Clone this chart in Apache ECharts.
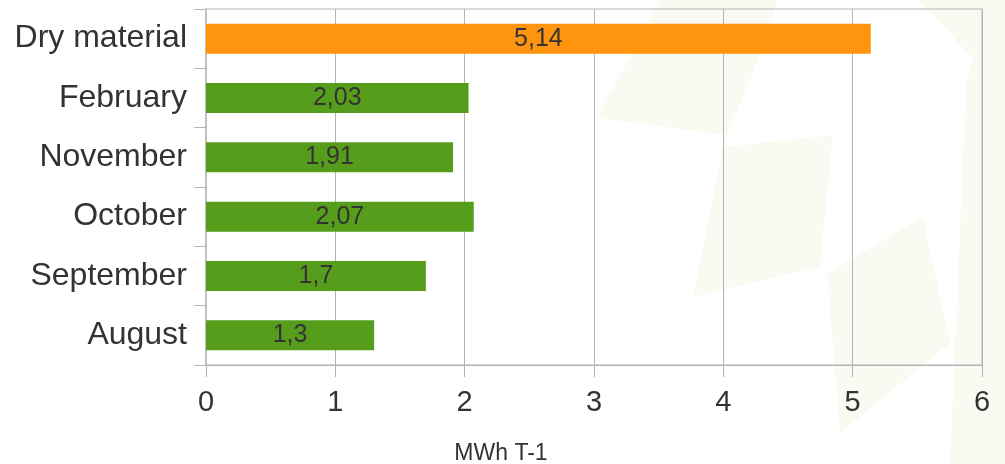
<!DOCTYPE html>
<html>
<head>
<meta charset="utf-8">
<style>
  html, body { margin: 0; padding: 0; background: #ffffff; }
  #chart { width: 1005px; height: 464px; }
</style>
<script src="https://cdn.jsdelivr.net/npm/echarts@6/dist/echarts.min.js"></script>
</head>
<body>
<div id="chart"></div>
<script>
// Categories listed bottom to top, as the category axis stacks them
const categories = ['August', 'September', 'October', 'November', 'February', 'Dry material'];
const energyValues = [1.3, 1.7, 2.07, 1.91, 2.03, 5.14];
const axisTicks = [0, 1, 2, 3, 4, 5, 6];
const axisTitle = 'MWh T-1';
const highlighted = 'Dry material';

const ORANGE = '#ff950e';
const GREEN = '#579d1c';
const GRID_GREY = '#b3b3b3';
const TEXT = '#333333';
const FONT = '"Liberation Sans", Arial, sans-serif';
const WATERMARK = '#fafaf3';

const chart = echarts.init(document.getElementById('chart'), null, { renderer: 'canvas' });

// Faint decorative leaf shapes in the page background
const backdrop = [
  [[660, 0], [778, 0], [760, 55], [727, 135], [597, 118]],
  [[723, 147], [833, 135], [820, 267], [693, 297]],
  [[827, 273], [923, 217], [950, 343], [840, 433]],
  [[918, 0], [1005, 0], [1005, 464], [950, 464], [966, 85], [973, 58]]
].map(pts => ({
  type: 'polygon',
  z: -10,
  silent: true,
  shape: { points: pts },
  style: { fill: WATERMARK }
}));

chart.setOption({
  animation: false,
  backgroundColor: '#ffffff',
  graphic: backdrop,
  grid: {
    left: 206, right: 23, top: 9, bottom: 99,
    outerBoundsMode: 'none',
    containLabel: false,
    show: true,
    borderColor: GRID_GREY,
    borderWidth: 1,
    backgroundColor: 'transparent'
  },
  xAxis: {
    type: 'value',
    min: axisTicks[0],
    max: axisTicks[axisTicks.length - 1],
    interval: 1,
    name: axisTitle,
    nameLocation: 'middle',
    nameGap: 77,
    nameTextStyle: {
      fontFamily: FONT, fontSize: 23, color: TEXT,
      padding: [0, 186, 0, 0]
    },
    axisLine: { show: true, lineStyle: { color: GRID_GREY, width: 1 } },
    axisTick: { show: true, length: 12, lineStyle: { color: GRID_GREY } },
    axisLabel: {
      fontFamily: FONT, fontSize: 29, color: TEXT, margin: 23,
      formatter: v => String(v)
    },
    splitLine: { show: true, lineStyle: { color: GRID_GREY, width: 1 } }
  },
  yAxis: {
    type: 'category',
    data: categories,
    axisLine: { show: true, lineStyle: { color: '#c0c0c0', width: 2 } },
    axisTick: { show: true, length: 12, inside: false, lineStyle: { color: GRID_GREY } },
    axisLabel: {
      fontFamily: FONT, fontSize: 32, color: TEXT, margin: 19,
      padding: [6, 0, 0, 0]
    },
    splitLine: { show: false }
  },
  series: [{
    type: 'bar',
    data: energyValues,
    barWidth: 30,
    itemStyle: {
      color: p => (p.name === highlighted ? ORANGE : GREEN)
    },
    label: {
      show: true,
      position: 'inside',
      fontFamily: FONT,
      fontSize: 25,
      color: TEXT,
      padding: [3, 0, 0, 0],
      formatter: p => String(p.value).replace('.', ',')
    }
  }]
});
</script>
</body>
</html>
